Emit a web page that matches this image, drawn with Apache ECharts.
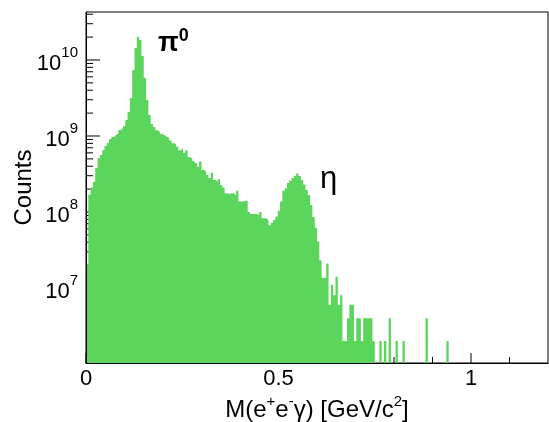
<!DOCTYPE html>
<html><head><meta charset="utf-8">
<script src="https://cdn.jsdelivr.net/npm/echarts@6/dist/echarts.min.js"></script>
<style>html,body{margin:0;padding:0;background:#fff}#c{width:549px;height:422px}</style>
</head><body><div id="c"></div>
<script>
// ---- data ----
const binWidth = 0.006; // GeV/c^2, bins start at 0
const counts = [
  2.0e7, 1.7e8, 2.1e8, 2.5e8, 3.8e8, 5.1e8, 5.6e8, 6.5e8, 7.4e8, 8.1e8,
  9.1e8, 9.7e8, 1.03e9, 1.09e9, 1.2e9, 1.27e9, 1.35e9, 1.62e9, 2.07e9, 3.16e9,
  7.4e9, 1.44e10, 2.0e10, 1.83e10, 1.13e10, 5.8e9, 2.98e9, 1.89e9, 1.44e9, 1.31e9,
  1.2e9, 1.13e9, 1.06e9, 1.03e9, 9.8e8, 9.4e8, 8.7e8, 8.0e8, 7.85e8, 7.2e8,
  6.5e8, 6.9e8, 6.0e8, 6.5e8, 5.3e8, 5.1e8, 4.7e8, 4.4e8, 3.95e8, 4.6e8,
  3.6e8, 3.4e8, 3.07e8, 2.8e8, 3.3e8, 2.64e8, 2.5e8, 2.7e8, 2.27e8, 2.1e8,
  1.76e8, 1.73e8, 1.76e8, 1.76e8, 1.67e8, 1.9e8, 1.37e8, 1.37e8, 1.41e8, 1.41e8,
  1.0e8, 9.4e7, 9.4e7, 9.4e7, 9.1e7, 1.0e8, 8.3e7, 8.3e7, 7.85e7, 6.7e7,
  7.2e7, 7.85e7, 8.7e7, 1.04e8, 1.37e8, 1.9e8, 2.05e8, 2.4e8, 2.6e8, 2.8e8,
  2.98e8, 3.2e8, 2.98e8, 2.64e8, 2.3e8, 1.95e8, 1.67e8, 1.24e8, 8.6e7, 6.2e7,
  4.1e7, 2.3e7, 1.35e7, 1.35e7, 2.1e7, 6e6, 1.1e7, 8e6, 1.4e7, 6e6,
  8e6, 2e6, 2e6, 4e6, 6e6, 6e6, 2e6, 4e6, 4e6, 2e6,
  4e6, 4e6, 4e6, 4e6, 2e6, 0, 0, 2e6, 0, 2e6,
  0, 4e6, 0, 0, 2e6, 0, 0, 2e6, 0, 0,
  0, 0, 0, 0, 0, 0, 0, 4e6, 0, 0,
  0, 0, 0, 0, 0, 0, 2e6
];
const xTickLabels = [0, 0.5, 1];
const xMinorTicks = [0.1, 0.2, 0.3, 0.4, 0.6, 0.7, 0.8, 0.9, 1.1];
const yTickLabels = [1e7, 1e8, 1e9, 1e10];
const yMinorTicks = [
  2e6, 3e6, 4e6, 5e6, 6e6, 7e6, 8e6, 9e6,
  2e7, 3e7, 4e7, 5e7, 6e7, 7e7, 8e7, 9e7,
  2e8, 3e8, 4e8, 5e8, 6e8, 7e8, 8e8, 9e8,
  2e9, 3e9, 4e9, 5e9, 6e9, 7e9, 8e9, 9e9,
  2e10, 3e10, 4e10
];
const xTitle = '{n|M(e}{s|+}{n|e}{s|-}{n|γ) [GeV/c}{s|2}{n|]}';
const yTitle = 'Counts';

// ---- axis ranges ----
const xMin = 0, xMax = 1.2;
const yMin = 1.03e6, yMax = 4.28e10;

const green = '#5bd55b';
const font = '"Liberation Sans", Arial, Helvetica, sans-serif';

// histogram outline points (step shape)
const pts = [];
counts.forEach((c, i) => {
  const x0 = +(i * binWidth).toFixed(4), x1 = +((i + 1) * binWidth).toFixed(4);
  if (c > 0) { pts.push([x0, c], [x1, c]); } else { pts.push([x0, '-']); }
});

const tickData = [].concat(
  xTickLabels.map(v => [v, yMin, 0]),
  xMinorTicks.map(v => [v, yMin, 1]),
  yTickLabels.map(v => [xMin, v, 2]),
  yMinorTicks.map(v => [xMin, v, 3])
);

const chart = echarts.init(document.getElementById('c'), null, {renderer: 'canvas'});
chart.setOption({
  animation: false,
  backgroundColor: '#fff',
  grid: {left: 86, right: 1, top: 12, bottom: 59, show: true, borderColor: '#000', borderWidth: 1,
         backgroundColor: 'transparent', containLabel: false, outerBoundsMode: 'none'},
  xAxis: {
    type: 'value', min: xMin, max: xMax, interval: 0.5, z: 5,
    axisLine: {show: true, lineStyle: {color: '#000', width: 1}},
    axisTick: {show: false}, splitLine: {show: false},
    axisLabel: {
      margin: 5, color: '#000', fontSize: 22, fontFamily: font,
      showMaxLabel: false,
      formatter: v => xTickLabels.some(t => Math.abs(t - v) < 1e-9) ? String(v) : ''
    },
    name: xTitle, nameLocation: 'middle', nameGap: 31, nameMoveOverlap: false,
    nameTextStyle: {
      color: '#000', fontFamily: font,
      rich: {
        n: {fontSize: 24, fontFamily: font, color: '#000', lineHeight: 28, verticalAlign: 'bottom'},
        s: {fontSize: 15, fontFamily: font, color: '#000', lineHeight: 15, verticalAlign: 'top'}
      }
    }
  },
  yAxis: {
    type: 'log', logBase: 10, min: yMin, max: yMax, z: 5,
    axisLine: {show: true, lineStyle: {color: '#000', width: 1}},
    axisTick: {show: false}, splitLine: {show: false}, minorTick: {show: false},
    axisLabel: {
      margin: 8, color: '#000', fontFamily: font,
      showMinLabel: false, showMaxLabel: false,
      formatter: v => {
        const e = Math.round(Math.log10(v));
        if (Math.abs(Math.log10(v) - e) > 0.01) return '';
        if (!yTickLabels.some(t => Math.abs(Math.log10(t) - e) < 0.01)) return '';
        return '{b|10}{s|' + e + '}';
      },
      rich: {
        b: {fontSize: 22, fontFamily: font, color: '#000', lineHeight: 30, verticalAlign: 'bottom'},
        s: {fontSize: 15, fontFamily: font, color: '#000', lineHeight: 15, verticalAlign: 'top'}
      }
    },
    name: yTitle, nameLocation: 'middle', nameGap: 50, nameRotate: 90, nameMoveOverlap: false,
    nameTextStyle: {color: '#000', fontSize: 24, fontFamily: font}
  },
  series: [
    {
      type: 'custom', z: 1, clip: false, silent: true,
      data: tickData,
      renderItem: (params, api) => {
        const p = api.coord([api.value(0), api.value(1)]);
        const k = api.value(2);
        const len = [10, 6, 14, 7][k];
        const shape = k < 2
          ? {x1: p[0], y1: p[1], x2: p[0], y2: p[1] - len}
          : {x1: p[0], y1: p[1], x2: p[0] + len, y2: p[1]};
        return {type: 'line', shape: shape, style: {stroke: '#000', lineWidth: 1}};
      }
    },
    {
      type: 'line', z: 2, data: pts, symbol: 'none', showSymbol: false, silent: true,
      connectNulls: false,
      lineStyle: {width: 0, opacity: 0},
      areaStyle: {color: green, opacity: 1, origin: 'start'}
    }
  ],
  graphic: [
    {type: 'text', x: 158, y: 27, z: 10, style: {
      text: '{p|π}{s|0}',
      rich: {
        p: {fontSize: 27, fontWeight: 'bold', fontFamily: font, fill: '#000', lineHeight: 30, verticalAlign: 'bottom'},
        s: {fontSize: 18, fontWeight: 'bold', fontFamily: font, fill: '#000', lineHeight: 18, verticalAlign: 'top'}
      }
    }},
    {type: 'text', x: 320, y: 164, z: 10, style: {
      text: 'η', fontSize: 31, fontFamily: font, fill: '#000'
    }}
  ]
});
</script>
</body></html>
